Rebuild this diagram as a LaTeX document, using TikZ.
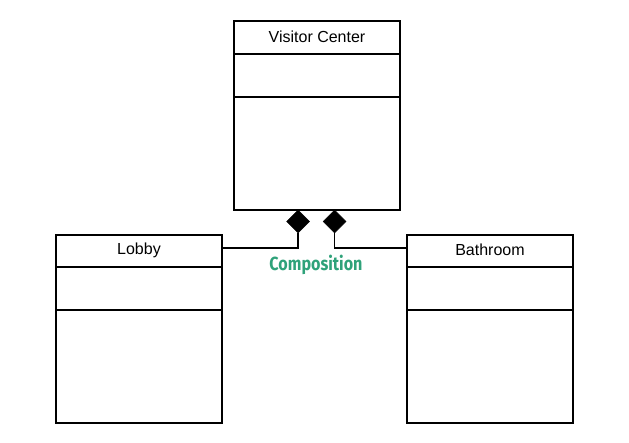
\documentclass[tikz,border=0pt]{standalone}
\usepackage{fontspec}
\usepackage{graphicx}
\setmainfont{Liberation Sans}
\newfontfamily\compfont{Fira Sans}
\usetikzlibrary{shapes.geometric}
\definecolor{compgreen}{HTML}{2FA27A}
\begin{document}
\begin{tikzpicture}[x=1pt,y=-1pt,line width=1.3pt,
  cls/.style={draw,fill=white},
  dia/.style={diamond,fill=black,draw=black,line width=0.5pt,minimum width=23pt,minimum height=23pt,inner sep=0pt},
  title/.style={font=\fontsize{16}{18}\selectfont}]
\useasboundingbox (0,0) rectangle (629,443);
% Visitor Center
\draw[cls] (234,21) rectangle (400,210);
\draw (234,54) -- (400,54) (234,97) -- (400,97);
\node[title] (vc) at (317,37) {Visitor Center};
% Lobby
\draw[cls] (56,235) rectangle (222,423);
\draw (56,267) -- (222,267) (56,310) -- (222,310);
\node[title] (lobby) at (139,250) {Lobby};
% Bathroom
\draw[cls] (407,235) rectangle (573,423);
\draw (407,267) -- (573,267) (407,310) -- (573,310);
\node[title] (bath) at (490,250) {Bathroom};
% diamonds
\node[dia] (d1) at (298,221.5) {};
\node[dia] (d2) at (334.5,221.5) {};
\coordinate (l) at (222,248);
\coordinate (r) at (407,248);
\draw (d1.south) |- (l);
\draw (d2.south) |- (r);
\node[text=compgreen,font=\compfont\bfseries\fontsize{19}{21}\selectfont] (comp) at (316,265) {\scalebox{0.85}[1]{Composition}};
\end{tikzpicture}
\end{document}
